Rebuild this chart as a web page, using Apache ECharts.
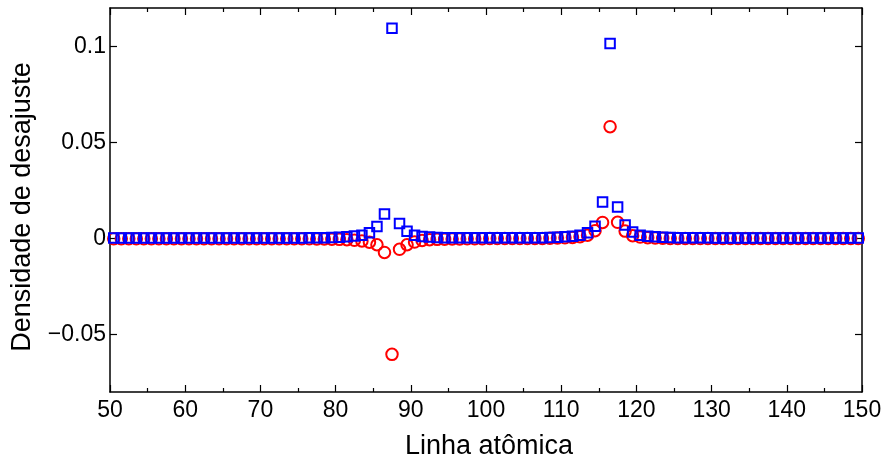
<!DOCTYPE html>
<html>
<head>
<meta charset="utf-8">
<script src="https://cdn.jsdelivr.net/npm/echarts@6/dist/echarts.min.js"></script>
<style>
html,body{margin:0;padding:0;background:#fff;}
#chart{width:883px;height:460px;}
</style>
</head>
<body>
<div id="chart"></div>
<script>
// Atomic line positions
var linhas = [
  50.5, 51.5, 52.5, 53.5, 54.5, 55.5, 56.5, 57.5, 58.5, 59.5,
  60.5, 61.5, 62.5, 63.5, 64.5, 65.5, 66.5, 67.5, 68.5, 69.5,
  70.5, 71.5, 72.5, 73.5, 74.5, 75.5, 76.5, 77.5, 78.5, 79.5,
  80.5, 81.5, 82.5, 83.5, 84.5, 85.5, 86.5, 87.5, 88.5, 89.5,
  90.5, 91.5, 92.5, 93.5, 94.5, 95.5, 96.5, 97.5, 98.5, 99.5,
  100.5, 101.5, 102.5, 103.5, 104.5, 105.5, 106.5, 107.5, 108.5, 109.5,
  110.5, 111.5, 112.5, 113.5, 114.5, 115.5, 116.5, 117.5, 118.5, 119.5,
  120.5, 121.5, 122.5, 123.5, 124.5, 125.5, 126.5, 127.5, 128.5, 129.5,
  130.5, 131.5, 132.5, 133.5, 134.5, 135.5, 136.5, 137.5, 138.5, 139.5,
  140.5, 141.5, 142.5, 143.5, 144.5, 145.5, 146.5, 147.5, 148.5, 149.5
];
// Blue squares
var serieAzul = [
  0.0002, 0.0002, 0.0002, 0.0002, 0.0002, 0.0002, 0.0002, 0.0002, 0.0002, 0.0002,
  0.0002, 0.0002, 0.0002, 0.0002, 0.0002, 0.0002, 0.0002, 0.0002, 0.0002, 0.0002,
  0.0002, 0.0002, 0.0002, 0.0002, 0.0002, 0.0002, 0.0003, 0.0003, 0.0004, 0.0005,
  0.0006, 0.0008, 0.0012, 0.0017, 0.0030, 0.0062, 0.0127, 0.1095, 0.0078, 0.0037,
  0.0017, 0.0010, 0.0007, 0.0005, 0.0004, 0.0003, 0.0003, 0.0003, 0.0003, 0.0003,
  0.0003, 0.0003, 0.0003, 0.0003, 0.0003, 0.0003, 0.0003, 0.0004, 0.0005, 0.0006,
  0.0008, 0.0011, 0.0016, 0.0030, 0.0063, 0.0189, 0.1015, 0.0163, 0.0070, 0.0033,
  0.0017, 0.0011, 0.0008, 0.0006, 0.0005, 0.0004, 0.0004, 0.0003, 0.0003, 0.0003,
  0.0002, 0.0002, 0.0002, 0.0002, 0.0002, 0.0002, 0.0002, 0.0002, 0.0002, 0.0002,
  0.0002, 0.0002, 0.0002, 0.0002, 0.0002, 0.0002, 0.0002, 0.0002, 0.0002, 0.0002
];
// Red circles
var serieVermelha = [
  -0.0002, -0.0002, -0.0002, -0.0002, -0.0002, -0.0002, -0.0002, -0.0002, -0.0002, -0.0002,
  -0.0002, -0.0002, -0.0002, -0.0002, -0.0002, -0.0002, -0.0002, -0.0002, -0.0002, -0.0002,
  -0.0002, -0.0002, -0.0002, -0.0002, -0.0002, -0.0002, -0.0002, -0.0003, -0.0003, -0.0004,
  -0.0005, -0.0007, -0.0010, -0.0013, -0.0020, -0.0033, -0.0073, -0.0604, -0.0057, -0.0033,
  -0.0019, -0.0011, -0.0007, -0.0005, -0.0004, -0.0003, -0.0003, -0.0002, -0.0002, -0.0002,
  -0.0001, -0.0001, -0.0001, -0.0001, -0.0001, -0.0001, 0.0000, 0.0000, 0.0001, 0.0002,
  0.0003, 0.0005, 0.0009, 0.0017, 0.0040, 0.0083, 0.0582, 0.0084, 0.0038, 0.0014,
  0.0007, 0.0004, 0.0002, 0.0001, 0.0000, 0.0000, 0.0000, 0.0000, -0.0001, -0.0001,
  -0.0001, -0.0001, -0.0001, -0.0001, -0.0001, -0.0001, -0.0001, -0.0001, -0.0001, -0.0001,
  -0.0001, -0.0001, -0.0001, -0.0001, -0.0001, -0.0001, -0.0001, -0.0001, -0.0001, -0.0001
];
var yTicks = [-0.05, 0, 0.05, 0.1];
var xMin = 50, xMax = 150, xStep = 10;
var yMin = -0.08, yMax = 0.12;

function pares(xs, ys){ return xs.map(function(x,i){ return [x, ys[i]]; }); }
function fmtY(v){
  if (Math.abs(v) < 1e-12) return '0';
  return v < 0 ? '\u2212' + String(+(-v).toFixed(4)) : String(+v.toFixed(4));
}

var FONT = 'Liberation Sans, Arial, Helvetica, sans-serif';
var axisLine = {show:true, onZero:false, lineStyle:{color:'#000', width:1.5}};
var tickStyle = {color:'#000', width:1.2};
var chart = echarts.init(document.getElementById('chart'), null, {renderer:'canvas'});
chart.setOption({
  animation:false,
  backgroundColor:'#fff',
  grid:{left:110, right:21, top:8, bottom:68, containLabel:false, outerBoundsMode:'none'},
  xAxis:[{
    type:'value', min:xMin, max:xMax, interval:xStep, position:'bottom',
    name:'Linha atômica', nameLocation:'middle', nameGap:41,
    nameTextStyle:{fontFamily:FONT, fontSize:27, color:'#000', verticalAlign:'top', padding:[0,0,0,6]},
    axisLine:axisLine,
    axisTick:{show:true, inside:true, length:7, lineStyle:tickStyle},
    minorTick:{show:true, splitNumber:2, length:4, lineStyle:tickStyle},
    axisLabel:{fontFamily:FONT, fontSize:23, color:'#000', margin:7},
    splitLine:{show:false}
  },{
    type:'value', min:xMin, max:xMax, interval:xStep, position:'top',
    axisLine:axisLine,
    axisTick:{show:true, inside:true, length:7, lineStyle:tickStyle},
    minorTick:{show:true, splitNumber:2, length:4, lineStyle:tickStyle},
    axisLabel:{show:false}, splitLine:{show:false}
  }],
  yAxis:[{
    type:'value', min:yMin, max:yMax, position:'left',
    name:'Densidade de desajuste', nameLocation:'middle', nameGap:74,
    nameTextStyle:{fontFamily:FONT, fontSize:27, color:'#000', verticalAlign:'bottom', padding:[0,14,0,0]},
    axisLine:axisLine,
    axisTick:{show:true, inside:true, length:7, customValues:yTicks, lineStyle:tickStyle},
    axisLabel:{fontFamily:FONT, fontSize:23, color:'#000', margin:4, customValues:yTicks, formatter:fmtY},
    splitLine:{show:false}
  },{
    type:'value', min:yMin, max:yMax, position:'right',
    axisLine:axisLine,
    axisTick:{show:true, inside:true, length:7, customValues:yTicks, lineStyle:tickStyle},
    axisLabel:{show:false, customValues:yTicks},
    splitLine:{show:false}
  }],
  series:[{
    type:'scatter', name:'vermelho', xAxisIndex:0, yAxisIndex:0,
    data:pares(linhas, serieVermelha),
    symbol:'circle', symbolSize:11.5,
    itemStyle:{color:'rgba(0,0,0,0)', borderColor:'#ff0000', borderWidth:2, opacity:1},
    emphasis:{disabled:true}
  },{
    type:'scatter', name:'azul', xAxisIndex:0, yAxisIndex:0,
    data:pares(linhas, serieAzul),
    symbol:'rect', symbolSize:9.5,
    itemStyle:{color:'rgba(0,0,0,0)', borderColor:'#0000ff', borderWidth:2, opacity:1},
    emphasis:{disabled:true}
  }]
});
</script>
</body>
</html>
